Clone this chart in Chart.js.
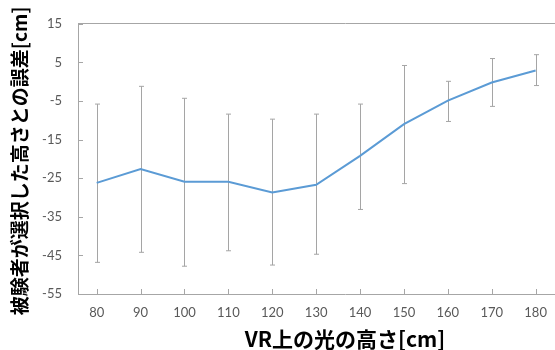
<!DOCTYPE html>
<html lang="ja">
<head>
<meta charset="UTF-8">
<title>VR上の光の高さと誤差</title>
<script src="https://cdn.jsdelivr.net/npm/chart.js"></script>
<style>
  html, body { margin: 0; padding: 0; overflow: hidden; background: #fff; }
  #wrap { width: 555px; height: 350px; overflow: hidden; }
</style>
</head>
<body>
<div id="wrap"><canvas id="errChart" width="612" height="350"></canvas></div>
<script>
// heights of the light in VR [cm]
const heights = [80, 90, 100, 110, 120, 130, 140, 150, 160, 170, 180];
// mean error of the chosen height [cm]
const meanErr = [-26.2, -22.6, -25.9, -25.9, -28.7, -26.7, -19.2, -11.0, -4.9, -0.2, 2.9];
// error bar ends
const errHigh = [-5.8, -1.2, -4.3, -8.4, -9.7, -8.4, -5.8, 4.2, 0.1, 6.0, 7.0];
const errLow = [-46.8, -44.2, -47.8, -43.8, -47.5, -44.7, -33.1, -26.4, -10.3, -6.4, -1.0];
const yTicks = [-55, -45, -35, -25, -15, -5, 5, 15];
const yTitle = '被験者が選択した高さとの誤差[cm]';

const axisGray = '#a6a6a6';

// error bars + inward tick marks
const errorBars = {
    id: 'errorBars',
    beforeDatasetsDraw(chart) {
        const ctx = chart.ctx;
        const x = chart.scales.x, y = chart.scales.y;
        ctx.save();
        ctx.strokeStyle = '#a5a5a5';
        ctx.lineWidth = 1;
        heights.forEach((h, i) => {
            const px = Math.round(x.getPixelForValue(h)) + 0.5;
            const top = y.getPixelForValue(errHigh[i]);
            const bot = y.getPixelForValue(errLow[i]);
            ctx.beginPath();
            ctx.moveTo(px, top); ctx.lineTo(px, bot);
            ctx.moveTo(px - 2.5, top); ctx.lineTo(px + 2.5, top);
            ctx.moveTo(px - 2.5, bot); ctx.lineTo(px + 2.5, bot);
            ctx.stroke();
        });
        // tick marks pointing into the plot
        ctx.strokeStyle = axisGray;
        const area = chart.chartArea;
        heights.forEach(h => {
            const px = Math.round(x.getPixelForValue(h)) + 0.5;
            ctx.beginPath();
            ctx.moveTo(px, area.bottom); ctx.lineTo(px, area.bottom - 5);
            ctx.stroke();
        });
        yTicks.forEach(v => {
            const py = Math.round(y.getPixelForValue(v)) + 0.5;
            ctx.beginPath();
            ctx.moveTo(area.left, py); ctx.lineTo(area.left + 5, py);
            ctx.stroke();
        });
        ctx.restore();
    },
    // y title is longer than the plot, so draw it without a max width
    afterDraw(chart) {
        const ctx = chart.ctx;
        const area = chart.chartArea;
        ctx.save();
        ctx.translate(20, (area.top + area.bottom) / 2 + 2);
        ctx.rotate(-Math.PI / 2);
        ctx.font = 'bold 19px "Noto Sans CJK JP", sans-serif';
        ctx.fillStyle = '#000';
        ctx.textAlign = 'center';
        ctx.textBaseline = 'middle';
        ctx.fillText(yTitle, 0, 0);
        ctx.restore();
    }
};

const tickFont = { family: 'Lato, "Liberation Sans", sans-serif', size: 13 };
const titleFont = { family: '"Noto Sans CJK JP", sans-serif', size: 21, weight: 'bold', lineHeight: 1 };

new Chart(document.getElementById('errChart'), {
    type: 'line',
    data: {
        datasets: [{
            data: heights.map((h, i) => ({ x: h, y: meanErr[i] })),
            borderColor: '#5b9bd5',
            borderWidth: 2,
            pointRadius: 0,
            tension: 0,
            fill: false
        }]
    },
    options: {
        responsive: false,
        animation: false,
        layout: { padding: { top: 22, right: 0, bottom: 0, left: 0 } },
        plugins: { legend: { display: false }, tooltip: { enabled: false } },
        scales: {
            x: {
                type: 'linear',
                min: 75.74,
                max: 197.4,
                afterBuildTicks: s => { s.ticks = heights.map(v => ({ value: v })); },
                afterFit: s => { s.height = 56; },
                ticks: { font: tickFont, color: '#595959', padding: 11, maxRotation: 0, autoSkip: false },
                grid: { display: false, drawTicks: false },
                border: { display: true, color: axisGray, width: 1 },
                title: { display: true, text: 'VR上の光の高さ[cm]', font: titleFont, color: '#000', padding: { top: 0, bottom: 0 } }
            },
            y: {
                min: -55,
                max: 15,
                afterBuildTicks: s => { s.ticks = yTicks.map(v => ({ value: v })); },
                afterFit: s => { s.width = 78; },
                ticks: { font: tickFont, color: '#595959', padding: 16 },
                grid: {
                    drawTicks: false,
                    color: c => (c.tick && c.tick.value === 15) ? axisGray : 'rgba(0,0,0,0)'
                },
                border: { display: true, color: axisGray, width: 1 },
                title: { display: false }
            }
        }
    },
    plugins: [errorBars]
});
</script>
</body>
</html>
